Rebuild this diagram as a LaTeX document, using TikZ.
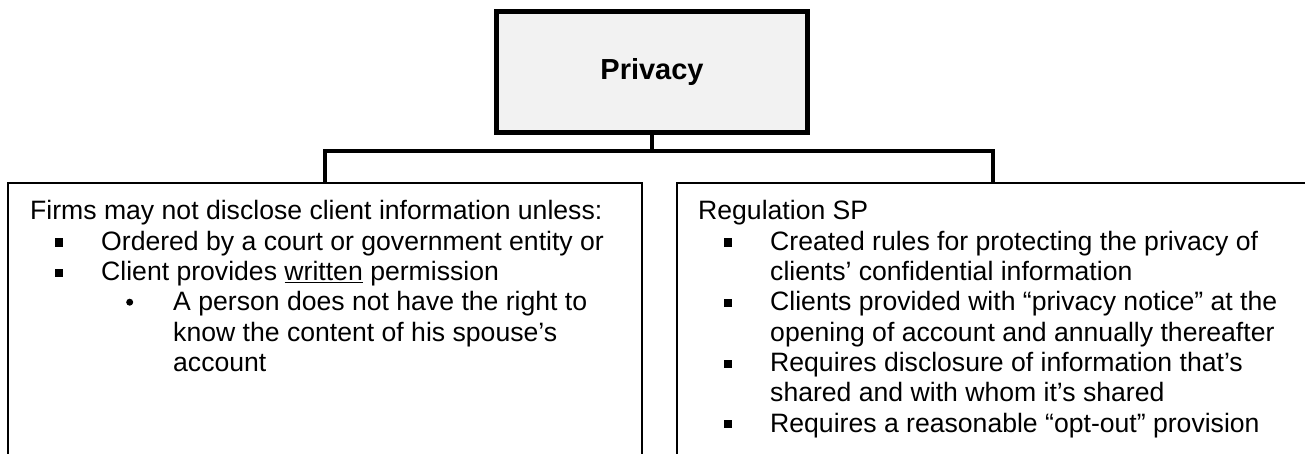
\documentclass[tikz,border=0pt]{standalone}
\usepackage{fontspec}
\setmainfont{Liberation Sans}
\begin{document}
\begin{tikzpicture}[x=1pt,y=-1pt,
  boxline/.style={draw=black,line width=2pt,rectangle,inner sep=0pt},
  conn/.style={draw=black,line width=3.5pt},
  txt/.style={anchor=base west,inner sep=0pt,font=\fontsize{26.6}{30.3}\selectfont},
  sqb/.style={rectangle,fill=black,minimum size=8pt,inner sep=0pt},
  rdb/.style={circle,fill=black,minimum size=7pt,inner sep=0pt}]
\path[use as bounding box,clip] (0,0) rectangle (1305,454);
\fill[white] (0,0) rectangle (1305,454);
% top box
\node[boxline,line width=5pt,fill={rgb,255:red,242;green,242;blue,242},
  minimum width=311pt,minimum height=121pt,font=\fontsize{29}{33}\selectfont\bfseries]
  (top) at (652,72) {Privacy};
% lower boxes (extend below the visible area)
\node[boxline,minimum width=634pt,minimum height=317pt] (left) at (325,341.5) {};
\node[boxline,minimum width=632pt,minimum height=317pt] (right) at (993,341.5) {};
% connectors
\coordinate (bus) at (652,151);
\draw[conn] (top.south) -- (bus);
\draw[conn] (left.north) |- (bus) -| (right.north);
% left text
\node[txt] (l0) at (30,220) {Firms may not disclose client information unless:};
\node[sqb] (lb1) at (59.2,242.5) {};
\node[txt] (l1) at (101,250.3) {Ordered by a court or government entity or};
\node[sqb] (lb2) at (59.2,272.8) {};
\node[txt] (l2) at (101,280.6) {Client provides \underline{written} permission};
\node[rdb] (lb3) at (129.7,302.2) {};
\node[txt] (l3) at (173,310.9) {A person does not have the right to};
\node[txt] (l4) at (173,341.2) {know the content of his spouse’s};
\node[txt] (l5) at (173,371.5) {account};
% right text
\node[txt] (r0) at (698,220) {Regulation SP};
\node[sqb] (rb1) at (727.5,242.5) {};
\node[txt] (r1) at (770,250.3) {Created rules for protecting the privacy of};
\node[txt] (r2) at (770,280.6) {clients’ confidential information};
\node[sqb] (rb2) at (727.5,303.1) {};
\node[txt] (r3) at (770,310.9) {Clients provided with “privacy notice” at the};
\node[txt] (r4) at (770,341.2) {opening of account and annually thereafter};
\node[sqb] (rb3) at (727.5,363.7) {};
\node[txt] (r5) at (770,371.5) {Requires disclosure of information that’s};
\node[txt] (r6) at (770,401.8) {shared and with whom it’s shared};
\node[sqb] (rb4) at (727.5,424.3) {};
\node[txt] (r7) at (770,432.1) {Requires a reasonable “opt-out” provision};
\end{tikzpicture}
\end{document}
